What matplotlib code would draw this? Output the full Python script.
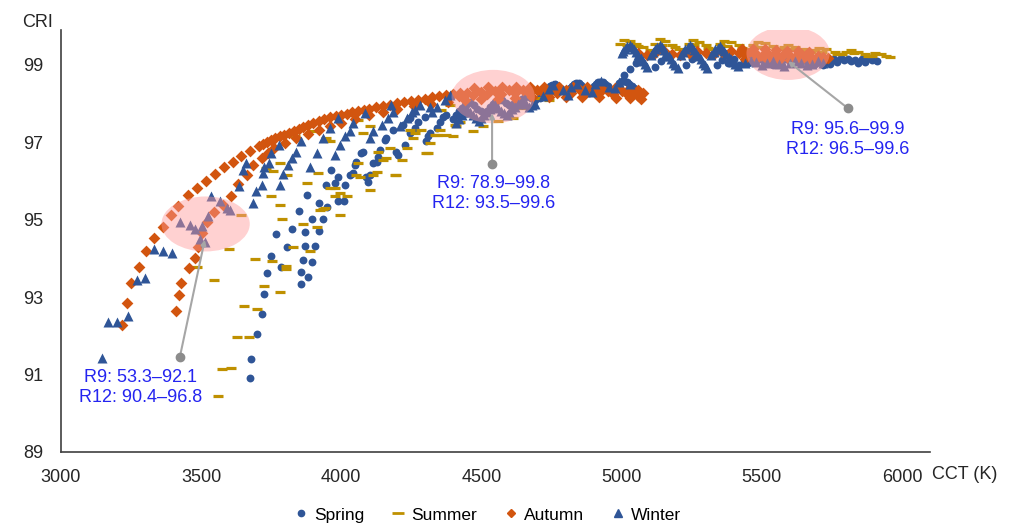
import matplotlib.pyplot as plt
from matplotlib.patches import Ellipse
from matplotlib.lines import Line2D

plt.rcParams["font.family"] = ["Liberation Sans", "DejaVu Sans"]

# ---- data (CCT in K, CRI) ----
spring_cct = [
    3674, 3678, 3701, 3717, 3725, 3736, 3748, 3767,
    3786, 3805, 3824, 3848, 3876,
    3856, 3855, 3863, 3869, 3870, 3896, 3920, 3947, 3965,
    3882, 3897, 3908, 3920, 3934, 3949, 3977, 3989,
    3988, 4009, 4013, 4031, 4042, 4048, 4054, 4072, 4078,
    4096, 4090, 4102, 4114, 4126, 4131, 4138, 4155, 4161, 4185,
    4203, 4197, 4227, 4245, 4262, 4274, 4298, 4221, 4245,
    4304, 4310, 4316, 4340, 4351, 4363, 4375,
    4400, 4420, 4440, 4460, 4485, 4510, 4530, 4550, 4575, 4600, 4625, 4645, 4665, 4690,
    4410, 4430, 4450, 4472, 4497, 4520, 4540, 4562, 4588, 4612, 4635, 4655, 4678,
    4708, 4725, 4744, 4762, 4782, 4800, 4815, 4830, 4848, 4866, 4885, 4900, 4915,
    4932, 4950, 4968, 4985, 5000, 5018, 5036, 5052,
    4716, 4735, 4753, 4772, 4791, 4808, 4822, 4839, 4857, 4876, 4892, 4908, 4923,
    4941, 4959, 4977, 4992, 5009, 5027, 5044,
    5010, 5030, 5050, 5120, 5140, 5160, 5230, 5250, 5270, 5340, 5360, 5380,
    5420, 5450, 5480, 5510, 5540, 5570, 5600, 5630, 5660, 5690, 5720,
    5745, 5770, 5795, 5820, 5845, 5870, 5895, 5910,
    5400, 5435, 5465, 5495, 5525, 5555, 5585, 5615, 5645, 5675, 5705, 5732,
    5757, 5782, 5808, 5832, 5857, 5882,
]
spring_cri = [
    90.92, 91.40, 92.04, 92.57, 93.07, 93.63, 94.05, 94.63,
    93.79, 94.29, 94.75, 95.23, 95.64,
    93.34, 93.66, 93.96, 94.32, 94.69, 95.02, 95.44, 95.90, 96.29,
    93.52, 93.92, 94.32, 94.70, 95.02, 95.32, 95.94, 96.11,
    95.47, 95.47, 95.90, 96.16, 96.20, 96.42, 96.50, 96.72, 96.76,
    95.98, 96.11, 96.16, 96.46, 96.50, 96.63, 96.80, 97.06, 97.11, 97.32,
    96.67, 96.76, 96.93, 97.23, 97.36, 97.53, 97.66, 97.45, 97.62,
    97.02, 97.15, 97.23, 97.36, 97.53, 97.66, 97.71,
    97.60, 97.80, 97.95, 98.05, 97.85, 97.75, 97.90, 98.05, 98.10, 97.95, 98.00, 98.12, 98.20, 98.10,
    97.70, 97.88, 98.00, 97.95, 97.80, 97.82, 97.98, 98.08, 98.02, 97.98, 98.06, 98.16, 98.15,
    98.15, 98.30, 98.45, 98.50, 98.40, 98.30, 98.40, 98.50, 98.52, 98.40, 98.28, 98.45, 98.55,
    98.56, 98.45, 98.32, 98.45, 98.58, 98.55, 98.45, 98.35,
    98.22, 98.38, 98.48, 98.45, 98.35, 98.35, 98.45, 98.52, 98.47, 98.34, 98.36, 98.50, 98.56,
    98.50, 98.38, 98.38, 98.52, 98.58, 98.50, 98.40,
    98.75, 98.90, 99.05, 98.95, 99.10, 99.20, 99.00, 99.15, 99.25, 99.00, 99.12, 99.05,
    99.00, 99.05, 99.10, 99.05, 99.00, 99.02, 99.08, 99.12, 99.08, 99.02, 99.00,
    99.03, 99.08, 99.12, 99.10, 99.05, 99.08, 99.12, 99.10,
    99.15, 99.12, 99.18, 99.15, 99.10, 99.12, 99.16, 99.18, 99.15, 99.10, 99.08, 99.12,
    99.16, 99.18, 99.16, 99.12, 99.14, 99.17,
]

summer_cct = [
    3561, 3573, 3605, 3629, 3671, 3653, 3701, 3726, 3781, 3546, 3484, 3692, 3754,
    3802, 3802, 3600, 3828, 3888, 3787, 3862, 3912, 3781, 3643, 3935, 3995, 3757,
    3924, 3941, 3977, 3995, 3959, 3977, 4019, 4054, 4066, 4060, 4102, 4126, 4149, 4161,
    4173, 4191, 4215, 4233, 4256, 4262, 4304, 4316, 4334, 4351, 4399, 4411, 4423, 3918,
    3751, 3876, 3947, 3959, 4078, 4102, 4060, 4114, 4131, 4197, 4245,
    4286, 4310, 4340, 4375, 4357, 4387, 3781, 3805, 3834, 3894, 3733,
    4405, 4470, 4506, 4560, 4613, 4647, 4708, 4740,
    4995, 5010, 5030, 5050, 5075, 5100,
    5120, 5136, 5155, 5180, 5205, 5225,
    5240, 5254, 5275, 5300, 5325, 5345,
    5352, 5365, 5390, 5420, 5445, 5465,
    5470, 5485, 5510, 5540, 5565,
    5580, 5595, 5620, 5650, 5675,
    5690, 5705, 5730, 5760, 5785,
    5800, 5818, 5845, 5870, 5895,
    5905, 5925, 5945, 5958,
    5020, 5060, 5145, 5190, 5260, 5310, 5375, 5430, 5495, 5550, 5605, 5660,
    5715, 5770, 5830, 5880,
]
summer_cri = [
    90.45, 91.14, 91.16, 91.96, 91.96, 92.77, 92.70, 93.30, 93.14, 93.44, 93.79, 93.98, 93.94,
    93.81, 93.72, 94.24, 94.29, 94.19, 95.01, 94.89, 94.82, 95.39, 95.11, 95.27, 95.13, 96.27,
    95.25, 95.30, 95.62, 95.68, 95.81, 95.83, 95.60, 96.16, 96.11, 96.46, 95.77, 96.23, 96.55, 96.59,
    96.85, 96.16, 96.55, 96.85, 97.11, 97.23, 96.72, 96.98, 97.19, 97.32, 97.15, 97.41, 97.53, 96.20,
    95.60, 95.94, 97.11, 97.02, 97.24, 97.41, 97.58, 96.16, 96.76, 96.16, 97.32,
    97.32, 96.72, 97.19, 97.19, 97.84, 97.97, 96.46, 96.16, 97.15, 97.28, 96.33,
    97.45, 97.30, 97.41, 97.55, 97.62, 97.89, 98.14, 98.10,
    99.55, 99.65, 99.62, 99.55, 99.45, 99.38,
    99.55, 99.66, 99.62, 99.52, 99.42, 99.35,
    99.55, 99.64, 99.60, 99.50, 99.42, 99.36,
    99.55, 99.62, 99.58, 99.50, 99.42, 99.36,
    99.52, 99.60, 99.56, 99.48, 99.40,
    99.45, 99.50, 99.47, 99.40, 99.34,
    99.38, 99.43, 99.40, 99.33, 99.27,
    99.33, 99.38, 99.34, 99.28, 99.22,
    99.30, 99.27, 99.23, 99.20,
    99.50, 99.48, 99.50, 99.45, 99.50, 99.44, 99.48, 99.44, 99.46, 99.42, 99.42, 99.36,
    99.34, 99.28, 99.30, 99.24,
]

autumn_cct = [
    3219, 3234, 3250, 3279, 3303, 3333, 3363, 3392, 3418, 3452, 3484, 3517, 3549,
    3581, 3614, 3644, 3674,
    3705, 3735, 3765, 3795, 3830, 3865, 3900, 3940, 3980, 4020, 4060, 4100, 4150,
    4200, 4250, 4300, 4350, 4400, 4450, 4500, 4550, 4600, 4650, 4700, 4750, 4800,
    4850, 4900, 4950, 5000, 5040, 5075,
    3720, 3750, 3780, 3812, 3848, 3882, 3920, 3960, 4000, 4040, 4080, 4125, 4175,
    4225, 4275, 4325, 4375, 4425,
    3410, 3422, 3430, 3457, 3479, 3490, 3502, 3520, 3546, 3579, 3606, 3632, 3662,
    3686, 3716, 3740,
    3760, 3800, 3840, 3880, 3920, 3960, 4000, 4050, 4100, 4150, 4200, 4260, 4320,
    4380, 4440, 4500, 4560, 4620, 4680, 4740, 4800, 4860, 4920, 4980, 5030, 5070,
    4420, 4470, 4520, 4570, 4620, 4670, 4720, 4770, 4820, 4870, 4920, 4970, 5020, 5060,
    4475, 4525, 4575, 4625, 4675, 4725, 4775, 4825, 4875, 4925, 4975, 5025, 5060,
    5060, 5090, 5120, 5150, 5180, 5210, 5240, 5270, 5300, 5330, 5360, 5390, 5420,
    5440, 5460, 5480, 5500, 5520, 5540, 5560, 5580, 5600, 5620, 5640, 5660, 5680,
    5700, 5720, 5735,
    5430, 5470, 5510, 5550, 5590, 5630, 5670, 5440, 5480, 5520, 5560, 5600, 5640,
    5680, 5720,
]
autumn_cri = [
    92.28, 92.86, 93.37, 93.79, 94.18, 94.52, 94.81, 95.12, 95.36, 95.64, 95.83, 96.01, 96.18,
    96.37, 96.50, 96.65, 96.78,
    96.90, 97.00, 97.10, 97.20, 97.30, 97.40, 97.50, 97.60, 97.68, 97.74, 97.80, 97.86, 97.94,
    98.01, 98.07, 98.13, 98.19, 98.24, 98.28, 98.31, 98.33, 98.34, 98.35, 98.36, 98.36, 98.35,
    98.34, 98.34, 98.33, 98.32, 98.30, 98.27,
    96.95, 97.05, 97.15, 97.25, 97.35, 97.45, 97.55, 97.64, 97.71, 97.77, 97.83, 97.90, 97.97,
    98.04, 98.10, 98.16, 98.21, 98.26,
    92.63, 93.06, 93.37, 93.75, 94.00, 94.30, 94.65, 94.95, 95.21, 95.38, 95.62, 95.92, 96.15,
    96.40, 96.60, 96.72,
    96.85, 96.98, 97.10, 97.21, 97.32, 97.42, 97.51, 97.61, 97.70, 97.78, 97.86, 97.93, 97.99,
    98.04, 98.08, 98.11, 98.13, 98.15, 98.16, 98.17, 98.17, 98.17, 98.16, 98.15, 98.14, 98.12,
    98.20, 98.22, 98.24, 98.25, 98.26, 98.27, 98.28, 98.28, 98.27, 98.26, 98.26, 98.25, 98.24, 98.20,
    98.40, 98.42, 98.43, 98.44, 98.44, 98.44, 98.43, 98.42, 98.42, 98.41, 98.40, 98.38, 98.35,
    99.30, 99.25, 99.30, 99.35, 99.28, 99.25, 99.30, 99.35, 99.30, 99.28, 99.32, 99.35, 99.30,
    99.25, 99.32, 99.28, 99.22, 99.30, 99.26, 99.20, 99.28, 99.24, 99.20, 99.27, 99.22, 99.18,
    99.24, 99.20, 99.17,
    99.40, 99.42, 99.40, 99.38, 99.36, 99.35, 99.33, 99.14, 99.15, 99.14, 99.12, 99.12, 99.13,
    99.10, 99.10,
]

winter_cct = [
    3145, 3169, 3199, 3240, 3270, 3300, 3333, 3363, 3395,
    3424, 3460, 3478, 3502, 3496, 3514, 3525, 3537, 3567, 3591, 3603,
    3636, 3650, 3660, 3684, 3695, 3716, 3721, 3725, 3743, 3751, 3778,
    3783, 3793, 3811, 3823, 3837, 3858, 3888, 3912, 3935, 3959, 3989,
    3977, 3995, 4013, 4031, 4042, 4084, 4102, 4114, 4144, 4167, 4185,
    4209, 4233, 4262, 4280, 4322, 4340, 4251, 4316, 4369, 4387, 4179,
    4409, 4430, 4450, 4470, 4490, 4510, 4530, 4550, 4570, 4590, 4610, 4630, 4650, 4670, 4690,
    4420, 4440, 4460, 4480, 4500, 4520, 4540, 4560, 4580, 4600, 4620, 4640, 4660, 4680,
    4720, 4740, 4755, 4790, 4810, 4820, 4840, 4870, 4895, 4905, 4925, 4955, 4975, 4990, 5010, 5030,
    5000, 5012, 5029, 5045, 5060, 5075, 5090,
    5006, 5020, 5037, 5052, 5068, 5082,
    5105, 5120, 5136, 5152, 5168, 5184, 5200,
    5112, 5128, 5144, 5160, 5176, 5192,
    5212, 5228, 5243, 5258, 5274, 5290, 5306,
    5220, 5236, 5251, 5266, 5282, 5298,
    5320, 5335, 5350, 5366, 5382, 5398, 5414,
    5328, 5343, 5358, 5374, 5390, 5406,
    5440, 5480, 5520, 5560, 5600, 5640, 5680, 5720,
    5460, 5500, 5540, 5580, 5620, 5660, 5700,
]
winter_cri = [
    91.42, 92.37, 92.37, 92.52, 93.44, 93.49, 94.24, 94.19, 94.15,
    94.95, 94.87, 94.75, 94.84, 94.50, 94.43, 95.10, 95.60, 95.47, 95.30, 95.25,
    95.86, 96.29, 96.46, 95.43, 95.74, 95.90, 96.20, 96.35, 96.46, 96.72, 96.93,
    95.90, 96.18, 96.42, 96.60, 96.76, 97.02, 96.37, 96.72, 97.11, 97.36, 97.62,
    96.67, 96.93, 97.15, 97.28, 97.49, 97.75, 97.11, 97.28, 97.45, 97.62, 97.79,
    97.41, 97.62, 97.84, 97.97, 97.79, 97.92, 97.79, 97.92, 98.10, 98.22, 97.95,
    97.50, 97.70, 97.85, 97.70, 97.55, 97.70, 97.85, 97.95, 97.80, 97.70, 97.85, 98.00, 98.05, 97.90, 98.00,
    97.60, 97.78, 97.78, 97.62, 97.62, 97.78, 97.90, 97.88, 97.75, 97.78, 97.92, 98.02, 97.98, 97.95,
    98.20, 98.38, 98.48, 98.35, 98.22, 98.42, 98.50, 98.35, 98.30, 98.50, 98.58, 98.42, 98.40, 98.55, 98.60, 98.50,
    99.30, 99.42, 99.52, 99.40, 99.25, 99.10, 98.95,
    99.36, 99.48, 99.47, 99.33, 99.18, 99.02,
    99.25, 99.40, 99.50, 99.38, 99.22, 99.05, 98.92,
    99.33, 99.46, 99.45, 99.30, 99.14, 98.99,
    99.25, 99.40, 99.50, 99.38, 99.22, 99.05, 98.92,
    99.33, 99.46, 99.45, 99.30, 99.14, 98.99,
    99.25, 99.40, 99.48, 99.36, 99.20, 99.08, 98.98,
    99.33, 99.44, 99.42, 99.28, 99.14, 99.03,
    99.05, 99.08, 99.05, 99.03, 99.06, 99.04, 99.02, 99.05,
    99.10, 99.00, 99.10, 98.98, 99.10, 99.00, 99.10,
]

# highlighted regions and their R9 / R12 notes
notes = [
    "R9: 53.3\u201392.1\nR12: 90.4\u201396.8",
    "R9: 78.9\u201399.8\nR12: 93.5\u201399.6",
    "R9: 95.6\u201399.9\nR12: 96.5\u201399.6",
]
ellipse_xy = [(3516, 94.89), (4542, 98.18), (5594, 99.30)]
ellipse_wh = [(315, 1.42), (297, 1.38), (297, 1.38)]
dot_xy = [(3424, 91.45), (4538, 96.44), (5807, 97.88)]
tip_xy = [(3513, 94.48), (4538, 97.75), (5594, 99.09)]
note_xy = [(3285, 90.67), (4542, 95.68), (5807, 97.08)]

blue = "#2F5597"
gold = "#BF9000"
orange = "#D2550F"
note_blue = "#2424F0"

fig = plt.figure(figsize=(10.11, 5.26), dpi=100)
ax = fig.add_axes([0.0603, 0.1407, 0.8595, 0.8023])

ax.scatter(spring_cct, spring_cri, s=32, marker="o", color=blue, linewidths=0, zorder=2)
ax.scatter(summer_cct, summer_cri, s=60, marker="_", color=gold, linewidths=2.3, zorder=3)
ax.scatter(autumn_cct, autumn_cri, s=36, marker="D", color=orange, linewidths=0, zorder=4)
ax.scatter(winter_cct, winter_cri, s=52, marker="^", color=blue, linewidths=0, zorder=5)

for (cx, cy), (w, h) in zip(ellipse_xy, ellipse_wh):
    ax.add_patch(Ellipse((cx, cy), w, h, facecolor="#FF9999", alpha=0.45,
                         edgecolor="none", zorder=6))

for (dx, dy), (tx, ty) in zip(dot_xy, tip_xy):
    ax.annotate("", xy=(tx, ty), xytext=(dx, dy),
                arrowprops=dict(arrowstyle="-|>", color="#A6A6A6", lw=1.5,
                                mutation_scale=7, shrinkA=0, shrinkB=0),
                zorder=7)
    ax.plot(dx, dy, "o", color="#8C8C8C", ms=6, zorder=8)

for (nx, ny), txt in zip(note_xy, notes):
    ax.text(nx, ny, txt, color=note_blue, fontsize=13, ha="center", va="center",
            linespacing=1.25, zorder=9)

ax.set_xlim(3000, 6100)
ax.set_ylim(89, 99.9)
ax.set_xticks(range(3000, 6001, 500))
ax.set_yticks(range(89, 100, 2))
ax.tick_params(length=0, labelsize=13, labelcolor="#262626")
ax.tick_params(axis="x", pad=12)
ax.tick_params(axis="y", pad=13)

for side in ["top", "right"]:
    ax.spines[side].set_visible(False)
for side in ["left", "bottom"]:
    ax.spines[side].set_color("#404040")
    ax.spines[side].set_linewidth(1.2)

fig.text(0.0376, 0.958, "CRI", ha="center", va="center", fontsize=13, color="#262626")
fig.text(0.9545, 0.097, "CCT (K)", ha="center", va="center", fontsize=13, color="#262626")

handles = [
    Line2D([], [], marker="o", color=blue, ls="none", ms=4.5),
    Line2D([], [], marker="_", color=gold, ls="none", ms=8, mew=2),
    Line2D([], [], marker="D", color=orange, ls="none", ms=4.5),
    Line2D([], [], marker="^", color=blue, ls="none", ms=6),
]
fig.legend(handles, ["Spring", "Summer", "Autumn", "Winter"], loc="center",
           bbox_to_anchor=(0.482, 0.021), ncol=4, frameon=False, fontsize=12.5,
           handlelength=0.9, handletextpad=0.3, columnspacing=1.5)

fig.savefig("out.png", dpi=100)
